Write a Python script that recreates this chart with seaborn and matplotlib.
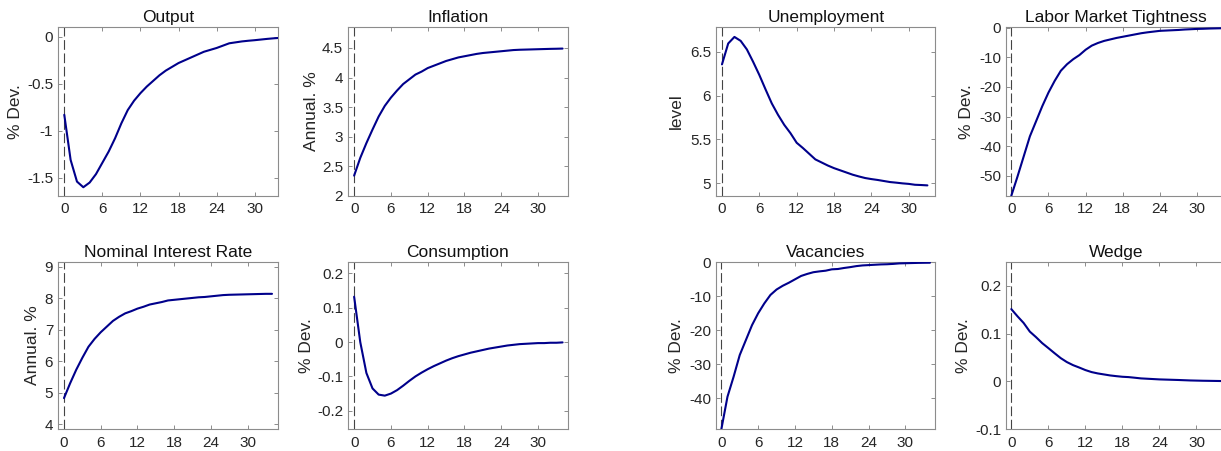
import matplotlib
matplotlib.use("Agg")
import matplotlib.pyplot as plt
from matplotlib.ticker import FuncFormatter
import numpy as np
import pandas as pd
import seaborn as sns

# Impulse responses (quarters after the shock)
periods = list(range(35))

output = [-0.83, -1.31, -1.54, -1.60, -1.55, -1.46, -1.34, -1.22, -1.08, -0.92,
          -0.78, -0.68, -0.60, -0.53, -0.47, -0.41, -0.36, -0.32, -0.28, -0.25,
          -0.22, -0.19, -0.16, -0.14, -0.12, -0.095, -0.07, -0.06, -0.05, -0.043,
          -0.037, -0.03, -0.023, -0.017, -0.012]

inflation = [2.34, 2.64, 2.89, 3.12, 3.34, 3.52, 3.66, 3.78, 3.89, 3.97,
             4.05, 4.10, 4.16, 4.20, 4.24, 4.28, 4.31, 4.34, 4.36, 4.38,
             4.40, 4.415, 4.425, 4.435, 4.445, 4.455, 4.465, 4.47, 4.473, 4.476,
             4.479, 4.482, 4.485, 4.487, 4.49]

unemployment = [6.356, 6.595, 6.67, 6.625, 6.527, 6.386, 6.235, 6.07, 5.91, 5.78,
                5.665, 5.57, 5.46, 5.40, 5.335, 5.27, 5.235, 5.20, 5.17, 5.145,
                5.12, 5.095, 5.075, 5.057, 5.045, 5.035, 5.023, 5.011, 5.004, 4.996,
                4.99, 4.98, 4.977, 4.973]

tightness = [-56.8, -50.3, -43.5, -36.7, -31.6, -26.5, -21.9, -17.95, -14.5, -12.3,
             -10.6, -9.2, -7.4, -6.0, -5.1, -4.4, -3.9, -3.4, -3.0, -2.6,
             -2.2, -1.8, -1.5, -1.25, -1.0, -0.9, -0.8, -0.7, -0.55, -0.45,
             -0.35, -0.3, -0.22, -0.17, -0.12]

nominal_rate = [4.83, 5.30, 5.73, 6.11, 6.46, 6.71, 6.92, 7.10, 7.28, 7.41,
                7.52, 7.59, 7.67, 7.73, 7.80, 7.84, 7.88, 7.93, 7.95, 7.97,
                7.99, 8.01, 8.03, 8.04, 8.06, 8.08, 8.10, 8.11, 8.115, 8.12,
                8.125, 8.13, 8.135, 8.14, 8.14]

consumption = [0.132, 0.0, -0.09, -0.135, -0.153, -0.156, -0.15, -0.14, -0.127, -0.113,
               -0.10, -0.089, -0.079, -0.07, -0.062, -0.054, -0.047, -0.041, -0.036, -0.031,
               -0.027, -0.023, -0.019, -0.016, -0.013, -0.01, -0.008, -0.006, -0.005, -0.004,
               -0.003, -0.003, -0.002, -0.002, -0.001]

vacancies = [-49.2, -39.6, -33.7, -27.3, -22.9, -18.5, -15.0, -12.1, -9.6, -8.0,
             -6.9, -6.0, -5.0, -4.0, -3.4, -2.9, -2.65, -2.45, -2.05, -1.95,
             -1.65, -1.4, -1.1, -0.9, -0.8, -0.7, -0.6, -0.55, -0.45, -0.3,
             -0.25, -0.2, -0.15, -0.12, -0.1]

wedge = [0.151, 0.136, 0.122, 0.104, 0.0925, 0.08, 0.0696, 0.059, 0.0487, 0.0404,
         0.034, 0.029, 0.0237, 0.0195, 0.0167, 0.0146, 0.0125, 0.011, 0.0097, 0.009,
         0.0077, 0.0063, 0.0056, 0.0049, 0.0042, 0.0038, 0.0034, 0.003, 0.0025, 0.002,
         0.0017, 0.0014, 0.0012, 0.001, 0.0008]

titles = ["Output", "Inflation", "Unemployment", "Labor Market Tightness",
          "Nominal Interest Rate", "Consumption", "Vacancies", "Wedge"]
ylabels = ["% Dev.", "Annual. %", "level", "% Dev.",
           "Annual. %", "% Dev.", "% Dev.", "% Dev."]
series = [output, inflation, unemployment, tightness,
          nominal_rate, consumption, vacancies, wedge]
yticks = [[-1.5, -1, -0.5, 0],
          [2, 2.5, 3, 3.5, 4, 4.5],
          [5, 5.5, 6, 6.5],
          [-50, -40, -30, -20, -10, 0],
          [4, 5, 6, 7, 8, 9],
          [-0.2, -0.1, 0, 0.1, 0.2],
          [-40, -30, -20, -10, 0],
          [-0.1, 0, 0.1, 0.2]]
xticks = [0, 6, 12, 18, 24, 30]

sns.set_style("ticks")
plt.rcParams["font.family"] = ["Liberation Sans", "DejaVu Sans"]
plt.rcParams["axes.unicode_minus"] = False
plt.rcParams["lines.scale_dashes"] = False

W, H = 1221, 451
fig = plt.figure(figsize=(W / 100, H / 100), dpi=100)

# panel geometry in pixels: (left, top, width, height)
col_left = [58, 348, 716, 1006]
row_top = [27.3, 261.7]
row_h = [168.4, 167.6]
panel_w = 219.5

ylims = [(-1.69, 0.1), (2.0, 4.85), (4.855, 6.78), (-56.8, 0.2),
         (3.84, 9.16), (-0.254, 0.234), (-49.2, 0.2), (-0.1, 0.25)]
xlims = [(-0.99, 33.6), (-1.0, 34.8), (-0.96, 34.3), (-0.86, 34.6),
         (-0.98, 34.9), (-1.0, 34.8), (-0.87, 34.9), (-0.86, 34.7)]
label_x = [-0.195, -0.166, -0.18, -0.18, -0.114, -0.19, -0.18, -0.195]

box_color = "#8c8c8c"
text_color = "#262626"
line_color = "#00008b"
fmt = FuncFormatter(lambda v, _: f"{v:g}")

for i in range(8):
    r, c = divmod(i, 4)
    left = col_left[c] / W
    bottom = 1 - (row_top[r] + row_h[r]) / H
    ax = fig.add_axes([left, bottom, panel_w / W, row_h[r] / H])

    vals = series[i]
    df = pd.DataFrame({"period": periods[:len(vals)], "value": vals})
    ax.axvline(0, color="#444444", lw=0.8, linestyle=(0, (7, 2.6)), zorder=1)
    sns.lineplot(data=df, x="period", y="value", ax=ax, color=line_color,
                 lw=1.5, zorder=3)

    ax.set_xlim(*xlims[i])
    ax.set_ylim(*ylims[i])
    ax.set_xticks(xticks)
    ax.set_yticks(yticks[i])
    ax.yaxis.set_major_formatter(fmt)
    ax.xaxis.set_major_formatter(fmt)
    ax.tick_params(direction="in", length=3, width=0.7, colors=box_color,
                   labelcolor=text_color, labelsize=11,
                   top=True, right=True)
    ax.tick_params(axis="x", pad=4.5)
    ax.tick_params(axis="y", pad=3.5)
    for s in ax.spines.values():
        s.set_visible(True)
        s.set_color(box_color)
        s.set_linewidth(0.8)

    ax.set_title(titles[i], fontsize=12.5, color="#111111", pad=3.5)
    ax.set_xlabel("")
    ax.set_ylabel(ylabels[i], fontsize=12.5, color=text_color, va="center")
    ax.yaxis.set_label_coords(label_x[i], 0.5)

fig.savefig("out.png", dpi=100, facecolor="white")
